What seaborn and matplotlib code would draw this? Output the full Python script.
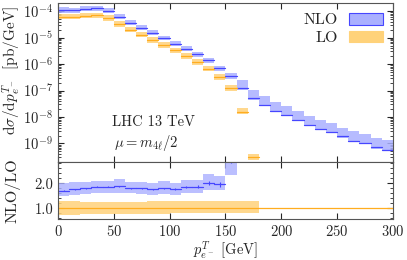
import numpy as np
import pandas as pd
import matplotlib
matplotlib.use("Agg")
import matplotlib.pyplot as plt
import seaborn as sns
from matplotlib.patches import Patch
from matplotlib.ticker import MultipleLocator, LogLocator, NullFormatter

# bin edges of p_T(e-) in GeV (10 GeV bins)
bin_edges = list(range(0, 310, 10))

# NLO differential cross section [pb/GeV]: central value and scale band
nlo_central = [1.09e-4, 1.08e-4, 1.24e-4, 1.28e-4, 1.02e-4, 6.08e-5, 3.66e-5, 2.37e-5, 1.53e-5, 9.66e-6,
               5.98e-6, 3.87e-6, 2.31e-6, 1.37e-6, 6.81e-7, 3.66e-7, 1.23e-7, 5.15e-8, 2.87e-8, 1.75e-8,
               1.20e-8, 7.76e-9, 5.02e-9, 3.54e-9, 2.80e-9, 1.87e-9, 1.28e-9, 1.04e-9, 7.18e-10, 5.68e-10]
nlo_hi = [1.38e-4, 1.36e-4, 1.54e-4, 1.59e-4, 1.26e-4, 7.7e-5, 4.56e-5, 2.95e-5, 1.91e-5, 1.16e-5,
          7.31e-6, 4.72e-6, 2.87e-6, 1.70e-6, 8.48e-7, 4.77e-7, 2.43e-7, 1.02e-7, 6.03e-8, 3.66e-8,
          2.52e-8, 1.63e-8, 1.05e-8, 7.43e-9, 5.87e-9, 3.80e-9, 2.85e-9, 2.19e-9, 1.59e-9, 1.30e-9]
nlo_lo = [8.6e-5, 8.6e-5, 1.0e-4, 1.03e-4, 8.2e-5, 4.85e-5, 2.95e-5, 1.91e-5, 1.23e-5, 7.97e-6,
          4.85e-6, 3.13e-6, 1.86e-6, 1.10e-6, 5.48e-7, 2.82e-7, 1.08e-7, 4.52e-8, 2.52e-8, 1.53e-8,
          1.05e-8, 6.81e-9, 4.41e-9, 3.11e-9, 2.45e-9, 1.64e-9, 1.12e-9, 9.17e-10, 6.30e-10, 4.98e-10]

# LO differential cross section (only up to 180 GeV)
lo_central = [6.1e-5, 6.1e-5, 6.8e-5, 6.9e-5, 5.4e-5, 3.2e-5, 1.95e-5, 1.30e-5, 8.0e-6, 5.2e-6,
              3.3e-6, 2.05e-6, 1.15e-6, 6.7e-7, 3.3e-7, 1.22e-7, 1.6e-8, 3.2e-10]
lo_hi = [7.7e-5, 7.7e-5, 8.6e-5, 8.6e-5, 7.05e-5, 4.29e-5, 2.54e-5, 1.64e-5, 1.06e-5, 6.87e-6,
         4.22e-6, 2.63e-6, 1.52e-6, 8.48e-7, 4.37e-7, 1.67e-7, 2.12e-8, 4.18e-10]
lo_lo = [4.98e-5, 4.98e-5, 5.43e-5, 5.57e-5, 4.29e-5, 2.54e-5, 1.56e-5, 1.06e-5, 6.30e-6, 4.07e-6,
         2.63e-6, 1.62e-6, 9.01e-7, 5.48e-7, 2.59e-7, 9.33e-8, 1.25e-8, 2.48e-10]

# ratio panel: NLO/LO (up to 160 GeV) and LO/LO (up to 180 GeV)
ratio_nlo = [1.69, 1.75, 1.79, 1.85, 1.85, 1.88, 1.79, 1.79, 1.75, 1.79, 1.75, 1.85, 1.85, 2.01, 1.96, 2.90]
ratio_nlo_hi = [2.01, 2.05, 2.05, 2.09, 2.09, 2.15, 2.05, 2.05, 2.01, 2.08, 2.01, 2.12, 2.12, 2.36, 2.28, 3.40]
ratio_nlo_lo = [1.48, 1.52, 1.55, 1.59, 1.59, 1.61, 1.59, 1.55, 1.52, 1.55, 1.52, 1.59, 1.59, 1.72, 1.72, 2.32]
ratio_nlo_err = [0.02, 0.02, 0.02, 0.02, 0.02, 0.02, 0.02, 0.02, 0.03, 0.03, 0.04, 0.05, 0.06, 0.08, 0.10, 0.10]
ratio_lo_hi = [1.30, 1.30, 1.26, 1.26, 1.26, 1.26, 1.26, 1.26, 1.28, 1.28, 1.28, 1.28, 1.28, 1.28, 1.28, 1.30, 1.30, 1.30]
ratio_lo_lo = [0.74, 0.74, 0.76, 0.76, 0.76, 0.76, 0.76, 0.76, 0.78, 0.78, 0.80, 0.80, 0.80, 0.80, 0.80, 0.80, 0.80, 0.80]

nlo_fill = "#aab0ff"
nlo_line = "#4646ff"
lo_fill = "#ffd27a"
lo_line = "#ffad1f"

sns.set_style("ticks")
plt.rcParams['font.family'] = ['cmr10', 'DejaVu Serif']
plt.rcParams['mathtext.fontset'] = 'cm'
plt.rcParams['axes.formatter.use_mathtext'] = True
plt.rcParams['axes.unicode_minus'] = False
plt.rcParams['font.size'] = 10.5


def band(ax, vals_lo, vals_hi, vals_c, fill, line, alpha=0.85):
    # one box per bin: filled band plus a flat central segment
    rows = []
    for i in range(len(vals_c)):
        x0, x1 = bin_edges[i], bin_edges[i + 1]
        ax.fill_between([x0, x1], [vals_lo[i]] * 2, [vals_hi[i]] * 2,
                        color=fill, alpha=alpha, lw=0)
        rows.append({'bin': i, 'x': x0, 'y': vals_c[i]})
        rows.append({'bin': i, 'x': x1, 'y': vals_c[i]})
    df = pd.DataFrame(rows)
    sns.lineplot(data=df, x='x', y='y', units='bin', estimator=None, ax=ax,
                 color=line, lw=0.9, legend=False)


fig = plt.figure(figsize=(4.07, 2.60), dpi=100)
ax = fig.add_axes([0.1425, 0.377, 0.823, 0.613])
axr = fig.add_axes([0.1425, 0.156, 0.823, 0.221], sharex=ax)

band(ax, nlo_lo, nlo_hi, nlo_central, nlo_fill, nlo_line)
band(ax, lo_lo, lo_hi, lo_central, lo_fill, lo_line)

ax.set_yscale('log')
ax.set_ylim(2.0e-10, 2.1e-4)
ax.set_xlim(0, 300)
ax.yaxis.set_major_locator(LogLocator(base=10, numticks=20))
ax.yaxis.set_minor_locator(LogLocator(base=10, subs=np.arange(2, 10), numticks=20))
ax.yaxis.set_minor_formatter(NullFormatter())
ax.set_ylabel(r'$\mathrm{d}\sigma/\mathrm{d}p^T_{e^-}\;$ [pb/GeV]', fontsize=11)
ax.yaxis.set_label_coords(-0.105, 0.575)
ax.set_xlabel('')
ax.tick_params(axis='x', labelbottom=False)
ax.tick_params(which='both', direction='in', top=True, right=True)
ax.tick_params(which='major', length=4)
ax.tick_params(which='minor', length=2)

ax.text(48, 4.5e-9, 'LHC 13 TeV', fontsize=10.5)
ax.text(50, 7.5e-10, r'$\mu = m_{4\ell}/2$', fontsize=10.5)

handles = [Patch(facecolor=nlo_fill, edgecolor=nlo_line, lw=0.8),
           Patch(facecolor=lo_fill, edgecolor=lo_fill, lw=0.8)]
ax.legend(handles, ['NLO', 'LO'], loc='upper right', frameon=False, markerfirst=False,
          fontsize=11.5, handlelength=2.1, handleheight=0.75, labelspacing=0.2,
          borderaxespad=0.25, handletextpad=0.7)

# ratio panel
for i in range(len(ratio_lo_hi)):
    axr.fill_between([bin_edges[i], bin_edges[i + 1]], [ratio_lo_lo[i]] * 2, [ratio_lo_hi[i]] * 2,
                     color=lo_fill, alpha=0.85, lw=0)
one_df = pd.DataFrame({'x': [0, 300], 'y': [1.0, 1.0]})
sns.lineplot(data=one_df, x='x', y='y', ax=axr, color=lo_line, lw=0.9, legend=False)
band(axr, ratio_nlo_lo, ratio_nlo_hi, ratio_nlo, nlo_fill, nlo_line, alpha=0.8)
centers = [e + 5 for e in bin_edges[:len(ratio_nlo)]]
axr.errorbar(centers, ratio_nlo, yerr=ratio_nlo_err, fmt='none', ecolor=nlo_line, elinewidth=0.8)

axr.set_ylim(0.55, 2.85)
axr.set_xlim(0, 300)
axr.set_yticks([1.0, 2.0])
axr.set_yticklabels(['1.0', '2.0'])
axr.yaxis.set_minor_locator(MultipleLocator(0.2))
axr.xaxis.set_major_locator(MultipleLocator(50))
axr.tick_params(which='both', direction='in', top=True, right=True)
axr.tick_params(which='major', length=4)
axr.tick_params(which='minor', length=2)
axr.set_ylabel('NLO/LO', fontsize=11.5)
axr.yaxis.set_label_coords(-0.112, 0.5)
axr.set_xlabel(r'$p^T_{e^-}$ [GeV]', labelpad=0, fontsize=10.5)

for a in (ax, axr):
    for s in a.spines.values():
        s.set_color('#555555')
        s.set_linewidth(0.8)

fig.savefig('out.png', dpi=100)
